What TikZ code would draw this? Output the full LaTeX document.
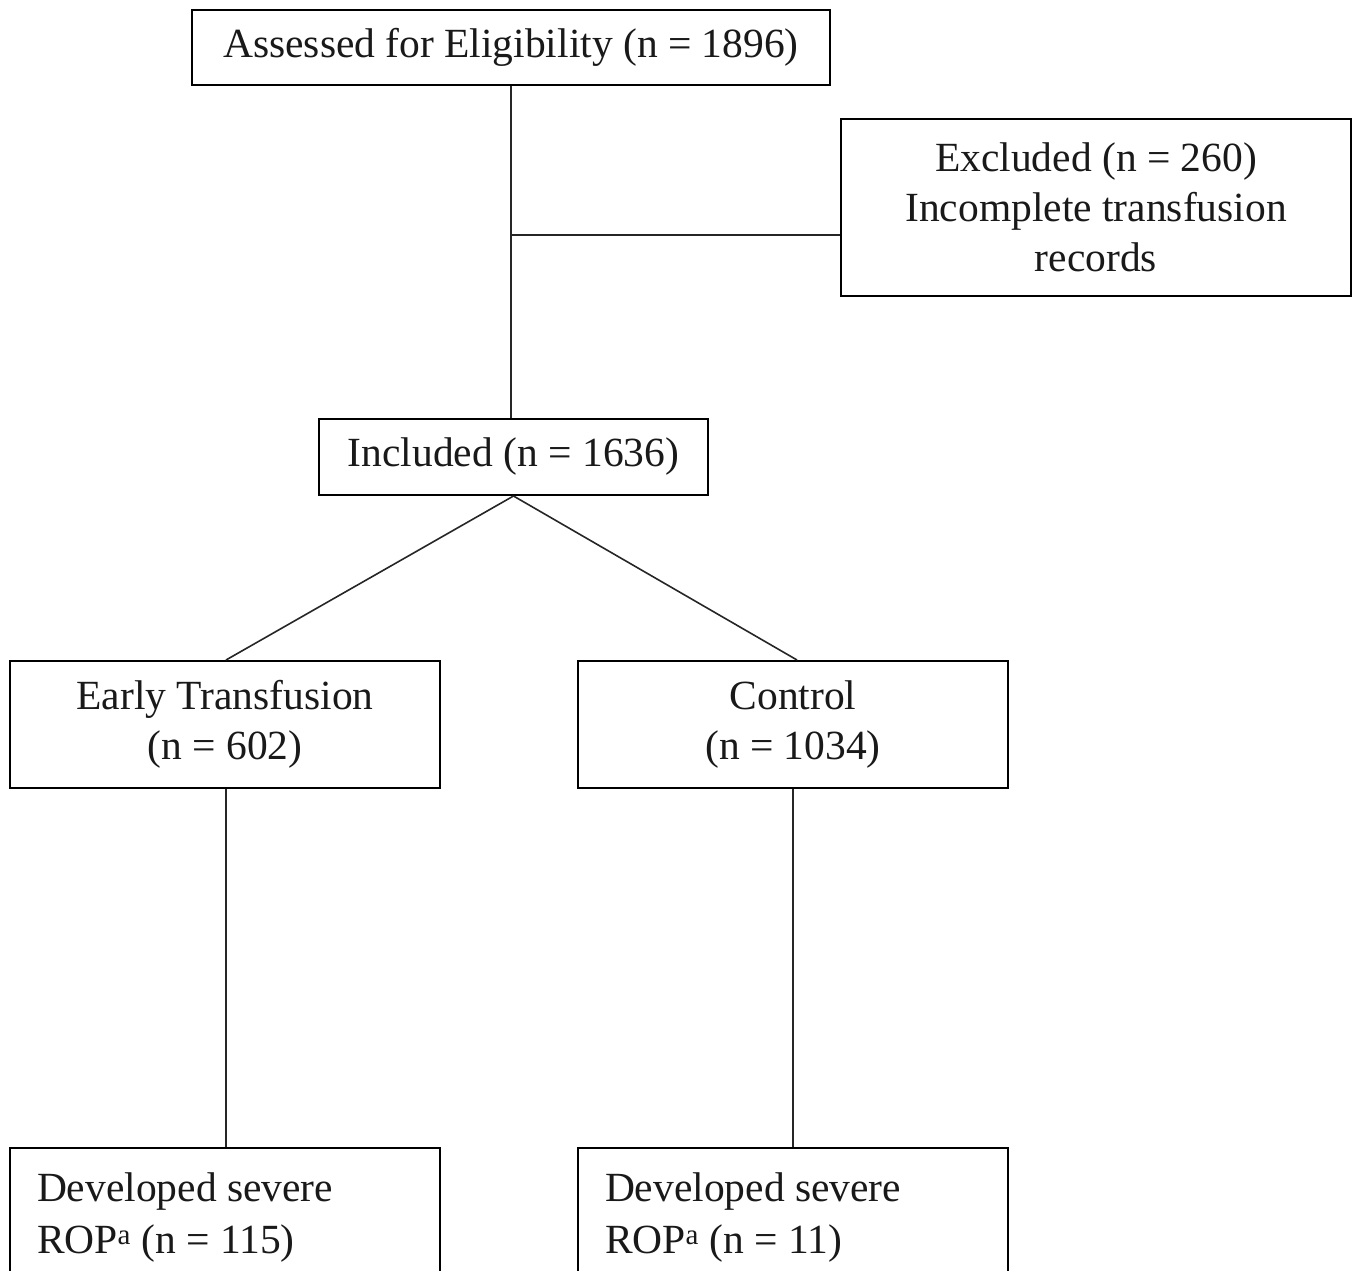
\documentclass[tikz,border=0pt]{standalone}
\usepackage{fontspec}
\setmainfont{Liberation Serif}
\begin{document}
\begin{tikzpicture}[x=1pt,y=-1pt,
  box/.style={draw=black, line width=2pt, rectangle, inner sep=0pt, align=center,
    font=\fontsize{41.5}{50}\selectfont, text=black!90},
  lbox/.style={draw=black, line width=2pt, rectangle, inner xsep=27pt, inner ysep=0pt,
    text width=376pt, align=flush left, font=\fontsize{41.5}{52}\selectfont, text=black!90},
  link/.style={draw=black!85, line width=1.6pt}]
\useasboundingbox (0,0) rectangle (1355,1271);
\clip (0,0) rectangle (1355,1271);
\node[box, minimum width=638pt, minimum height=75pt] (top) at (511,47.5) {\raisebox{-3pt}{Assessed for Eligibility (n = 1896)}};
\node[box, minimum width=510pt, minimum height=177pt] (excl) at (1096,207.5) {Excluded (n = 260)\\Incomplete transfusion\\records};
\node[box, minimum width=389pt, minimum height=76pt] (incl) at (513.5,457) {\raisebox{-3pt}{Included (n = 1636)}};
\node[box, minimum width=430pt, minimum height=127pt] (early) at (225,724.5) {Early Transfusion\\(n = 602)};
\node[box, minimum width=430pt, minimum height=127pt] (ctrl) at (793,724.5) {Control\\(n = 1034)};
\node[lbox, minimum height=140pt, anchor=north] (rop1) at (225,1147) {Developed severe\\ROP\textsuperscript{a} (n = 115)};
\node[lbox, minimum height=140pt, anchor=north] (rop2) at (793,1147) {Developed severe\\ROP\textsuperscript{a} (n = 11)};
\coordinate (j) at (511,235);
\draw[link] (top.south) -- (top.south |- incl.north);
\draw[link] (j) -- (j -| excl.west);
\draw[link] (incl.south) -- ([xshift=1pt]early.north);
\draw[link] (incl.south) -- ([xshift=4pt]ctrl.north);
\draw[link] ([xshift=1pt]early.south) -- ([xshift=1pt]rop1.north);
\draw[link] (ctrl.south) -- (rop2.north);
\end{tikzpicture}
\end{document}
